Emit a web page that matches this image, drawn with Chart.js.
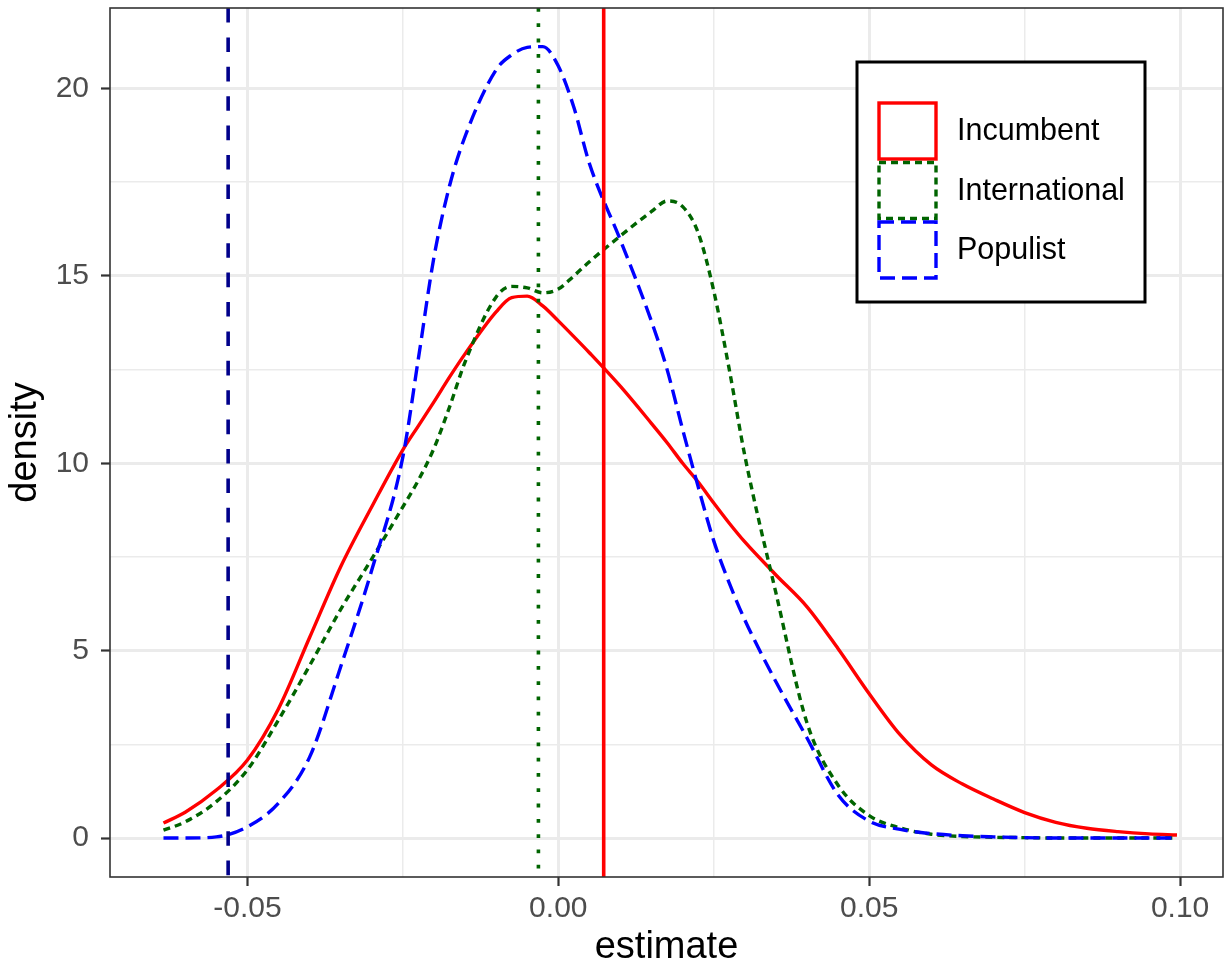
<!DOCTYPE html>
<html>
<head>
<meta charset="utf-8">
<title>density of estimate</title>
<script src="https://cdn.jsdelivr.net/npm/chart.js@4.4.1/dist/chart.umd.min.js"></script>
<style>
  html, body { margin: 0; padding: 0; background: #fff; }
  #wrap { width: 1231px; height: 971px; position: relative; }
</style>
</head>
<body>
<div id="wrap"><canvas id="grafico"></canvas></div>
<script>
// valores (densidade estimada)
const estimativas = [
  -0.0635, -0.06, -0.055, -0.05, -0.045, -0.04, -0.035, -0.03, -0.025, -0.0225,
  -0.02, -0.0175, -0.015, -0.01, -0.0075, -0.005, -0.0025, 0, 0.0025, 0.005,
  0.01, 0.015, 0.0175, 0.02, 0.0225, 0.025, 0.0275, 0.03, 0.035, 0.04,
  0.045, 0.05, 0.055, 0.06, 0.065, 0.07, 0.075, 0.08, 0.085, 0.09,
  0.095, 0.0995
];
const incumbent = [
  0.40, 0.69, 1.28, 2.08, 3.45, 5.35, 7.24, 8.84, 10.36, 11.0,
  11.64, 12.3, 12.92, 14.04, 14.42, 14.46, 14.2, 13.8, 13.38, 12.95,
  12.05, 11.06, 10.55, 10.0, 9.5, 8.94, 8.4, 7.9, 7.02, 6.17,
  5.05, 3.85, 2.75, 1.95, 1.44, 1.04, 0.68, 0.42, 0.26, 0.17,
  0.11, 0.08
];
const international = [
  0.21, 0.43, 0.97, 1.82, 3.15, 4.6, 6.1, 7.45, 8.84, 9.55,
  10.4, 11.5, 12.7, 14.44, 14.72, 14.68, 14.55, 14.65, 15.0, 15.38,
  16.07, 16.72, 17.0, 16.85, 16.15, 14.6, 12.5, 10.2, 6.54, 3.07,
  1.41, 0.6, 0.27, 0.1, 0.04, 0.02, 0.01, 0, 0, 0,
  0, 0
];
const populist = [
  0, 0, 0.03, 0.3, 0.93, 2.16, 4.57, 7.15, 10.17, 12.8,
  15.5, 17.4, 18.72, 20.5, 20.9, 21.1, 21.12, 20.6, 19.5, 18.0,
  15.95, 13.78, 12.5, 10.9, 9.37, 7.93, 6.8, 5.82, 4.17, 2.67,
  1.15, 0.45, 0.23, 0.12, 0.06, 0.03, 0.01, 0, 0, 0,
  0, 0
];
// médias (linhas verticais)
const medias = [0.0073, -0.0032, -0.0531];
const grupos = ['Incumbent', 'International', 'Populist'];

const xTicks = [-0.05, -0.025, 0, 0.025, 0.05, 0.075, 0.10];
const yTicks = [0, 2.5, 5, 7.5, 10, 12.5, 15, 17.5, 20];
const xLim = [-0.0721, 0.1069];
const yLim = [-1.04, 22.15];

// estilos
const fonte = "'Liberation Sans', Arial, sans-serif";
const cores = ['#FF0000', '#006400', '#0000FF'];
const coresMedia = ['#FF0000', '#006400', '#00008B'];
const tracos = [[], [7, 5], [15, 7]];
const tracosMedia = [[], [3.8, 11.5], [14.6, 14.8]];

const ehMaior = (v, passo) => Math.abs(v / passo - Math.round(v / passo)) < 1e-6;
const pontos = (ys) => estimativas.map((x, i) => ({ x: x, y: ys[i] }));

const datasets = [];
medias.forEach((m, i) => {
  datasets.push({
    label: grupos[i] + ' média',
    // de cima para baixo, para o tracejado começar no topo
    data: [{ x: m, y: yLim[1] }, { x: m, y: yLim[0] }],
    borderColor: coresMedia[i],
    borderWidth: 3.6,
    borderDash: tracosMedia[i],
    pointRadius: 0,
    tension: 0,
    order: 0
  });
});
[incumbent, international, populist].forEach((serie, i) => {
  datasets.push({
    label: grupos[i],
    data: pontos(serie),
    borderColor: cores[i],
    borderWidth: 3.4,
    borderDash: tracos[i],
    pointRadius: 0,
    cubicInterpolationMode: 'monotone',
    order: 3 - i
  });
});

// moldura do painel + legenda estilo ggplot
const molduraLegenda = {
  id: 'molduraLegenda',
  afterDraw(chart) {
    const ctx = chart.ctx;
    const a = chart.chartArea;
    ctx.save();
    ctx.strokeStyle = '#333333';
    ctx.lineWidth = 1.6;
    ctx.setLineDash([]);
    ctx.strokeRect(a.left, a.top, a.right - a.left, a.bottom - a.top);

    // caixa da legenda
    const lx = a.left + 747, ly = a.top + 54;
    ctx.fillStyle = '#ffffff';
    ctx.fillRect(lx, ly, 288, 240);
    ctx.strokeStyle = '#000000';
    ctx.lineWidth = 3;
    ctx.strokeRect(lx, ly, 288, 240);

    ctx.font = '30.5px ' + fonte;
    ctx.textBaseline = 'middle';
    ctx.textAlign = 'left';
    grupos.forEach((g, i) => {
      const ky = ly + 41 + i * 59.5;
      ctx.strokeStyle = cores[i];
      ctx.lineWidth = 3.4;
      ctx.setLineDash(tracos[i]);
      ctx.strokeRect(lx + 22, ky, 57, 56);
      ctx.setLineDash([]);
      ctx.fillStyle = '#000000';
      ctx.fillText(g, lx + 100, ky + 29);
    });
    ctx.restore();
  }
};

new Chart(document.getElementById('grafico'), {
  type: 'line',
  data: { datasets: datasets },
  options: {
    responsive: true,
    maintainAspectRatio: false,
    devicePixelRatio: 1,
    animation: false,
    font: { family: fonte },
    layout: { padding: { top: 8, right: 8, bottom: 0, left: 0 } },
    plugins: {
      legend: { display: false },
      tooltip: { enabled: false }
    },
    scales: {
      x: {
        type: 'linear',
        min: xLim[0],
        max: xLim[1],
        afterBuildTicks: (s) => { s.ticks = xTicks.map(v => ({ value: v })); },
        afterFit: (s) => { s.height = 94; s.paddingLeft = 0; s.paddingRight = 0; },
        border: { display: false },
        grid: {
          color: '#EBEBEB',
          lineWidth: (c) => (c.tick && ehMaior(c.tick.value, 0.05)) ? 3 : 1.5,
          tickColor: (c) => (c.tick && ehMaior(c.tick.value, 0.05)) ? '#333333' : 'rgba(0,0,0,0)',
          tickWidth: 2.2,
          tickLength: 9
        },
        ticks: {
          autoSkip: false,
          maxRotation: 0,
          padding: 5,
          color: '#4D4D4D',
          font: { family: fonte, size: 30 },
          callback: (v) => ehMaior(v, 0.05) ? Number(v).toFixed(2) : ''
        },
        title: {
          display: true,
          text: 'estimate',
          color: '#000000',
          font: { family: fonte, size: 38 },
          padding: { top: 0, bottom: 1 }
        }
      },
      y: {
        type: 'linear',
        min: yLim[0],
        max: yLim[1],
        afterBuildTicks: (s) => { s.ticks = yTicks.map(v => ({ value: v })); },
        afterFit: (s) => { s.width = 110; s.paddingTop = 0; s.paddingBottom = 0; },
        border: { display: false },
        grid: {
          color: '#EBEBEB',
          lineWidth: (c) => (c.tick && ehMaior(c.tick.value, 5)) ? 3 : 1.5,
          tickColor: (c) => (c.tick && ehMaior(c.tick.value, 5)) ? '#333333' : 'rgba(0,0,0,0)',
          tickWidth: 2.2,
          tickLength: 9
        },
        ticks: {
          autoSkip: false,
          padding: 12,
          color: '#4D4D4D',
          font: { family: fonte, size: 30 },
          callback: (v) => ehMaior(v, 5) ? String(v) : ''
        },
        title: {
          display: true,
          text: 'density',
          color: '#000000',
          font: { family: fonte, size: 38 },
          padding: { top: 3, bottom: 0 }
        }
      }
    }
  },
  plugins: [molduraLegenda]
});
</script>
</body>
</html>
